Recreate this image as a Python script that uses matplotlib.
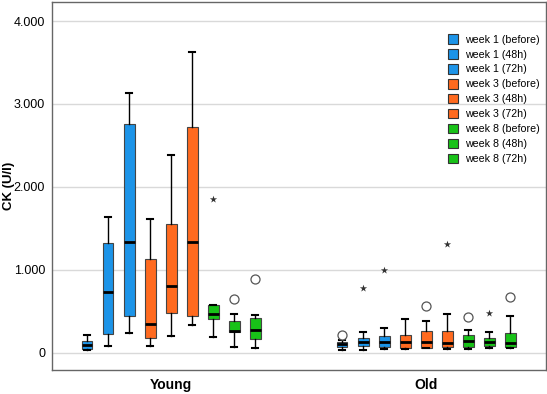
import matplotlib
matplotlib.use("Agg")
import matplotlib.pyplot as plt
from matplotlib.patches import Patch
from matplotlib.ticker import FuncFormatter

plt.rcParams['font.family'] = ['Liberation Sans', 'DejaVu Sans']

groups = ["Young", "Old"]
series = ["week 1 (before)", "week 1 (48h)", "week 1 (72h)",
          "week 3 (before)", "week 3 (48h)", "week 3 (72h)",
          "week 8 (before)", "week 8 (48h)", "week 8 (72h)"]
colors = ["#1c94e8", "#1c94e8", "#1c94e8",
          "#ff6a1f", "#ff6a1f", "#ff6a1f",
          "#18c218", "#18c218", "#18c218"]

# whisker low, Q1, median, Q3, whisker high
young_low = [32, 84, 233, 84, 205, 330, 185, 64, 52]
young_q1 = [44, 221, 446, 181, 474, 442, 402, 245, 165]
young_med = [92, 728, 1331, 342, 808, 1331, 466, 265, 273]
young_q3 = [145, 1319, 2758, 1126, 1552, 2718, 575, 386, 422]
young_high = [213, 1640, 3132, 1612, 2380, 3622, 580, 466, 454]
young_outliers = [[], [], [], [], [], [], [], [647], [884]]
young_extremes = [[], [], [], [], [], [], [1853], [], []]

old_low = [32, 32, 40, 44, 52, 40, 44, 52, 52]
old_q1 = [72, 84, 68, 60, 60, 68, 72, 84, 72]
old_med = [100, 132, 124, 132, 132, 112, 144, 132, 112]
old_q3 = [124, 172, 200, 216, 260, 260, 212, 180, 232]
old_high = [152, 248, 296, 400, 380, 468, 272, 252, 440]
old_outliers = [[212], [], [], [], [568], [], [424], [], [672]]
old_extremes = [[], [784], [992], [], [], [1312], [], [480], []]

yticks = [0, 1000, 2000, 3000, 4000]

fig = plt.figure(figsize=(5.47, 3.94), dpi=100)
ax = fig.add_axes([0.095, 0.061, 0.903, 0.934])

step = 0.0824
width = 0.043
data = [
    (young_low, young_q1, young_med, young_q3, young_high, young_outliers, young_extremes),
    (old_low, old_q1, old_med, old_q3, old_high, old_outliers, old_extremes),
]
for gi, (lo, q1, med, q3, hi, outl, ext) in enumerate(data):
    for i in range(len(series)):
        pos = gi + (i - 4) * step
        st = [dict(whislo=lo[i], q1=q1[i], med=med[i], q3=q3[i], whishi=hi[i], fliers=outl[i])]
        ax.bxp(st, positions=[pos], widths=width, patch_artist=True,
               showfliers=True,
               boxprops=dict(facecolor=colors[i], edgecolor="#444444", linewidth=0.8),
               medianprops=dict(color="black", linewidth=2.0),
               whiskerprops=dict(color="black", linewidth=1.0),
               capprops=dict(color="black", linewidth=1.5),
               capwidths=width * 0.55,
               flierprops=dict(marker="o", markerfacecolor="white",
                               markeredgecolor="#555555", markersize=6.5, markeredgewidth=0.9),
               zorder=3)
        if ext[i]:
            ax.scatter([pos] * len(ext[i]), ext[i], marker="*", s=30,
                       color="#333333", zorder=4, linewidths=0)

ax.set_xlim(-0.467, 1.47)
ax.set_ylim(-209, 4230)
ax.set_yticks(yticks)
ax.yaxis.set_major_formatter(FuncFormatter(lambda v, p: f"{int(v):,}".replace(",", ".")))
ax.set_xticks([0, 1])
ax.set_xticklabels(groups, fontsize=10, fontweight="bold")
ax.tick_params(axis="x", length=0, pad=6)
ax.tick_params(axis="y", length=0, labelsize=9, pad=5)
ax.grid(axis="y", color="#d9d9d9", linewidth=1.0, zorder=0)
ax.set_axisbelow(True)
for s in ax.spines.values():
    s.set_color("#666666")
    s.set_linewidth(1.0)
ax.set_ylabel("CK (U/l)", fontsize=9.5, fontweight="bold")
ax.yaxis.set_label_coords(-0.074, 0.5)

handles = [Patch(facecolor=c, edgecolor="#333333", linewidth=0.8) for c in colors]
ax.legend(handles, series, loc="upper right", bbox_to_anchor=(1.0, 0.93),
          frameon=False, fontsize=7.7, handlelength=1.0, handleheight=1.0,
          handletextpad=0.6, labelspacing=0.42, borderaxespad=0.2)

fig.savefig("out.png", dpi=100)
